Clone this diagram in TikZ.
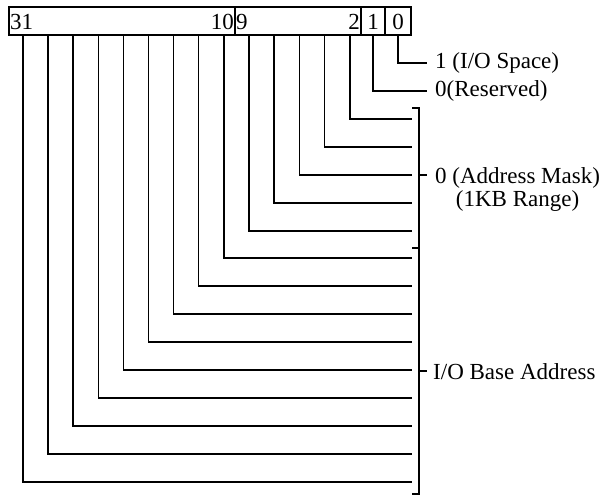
\documentclass[tikz,border=0pt]{standalone}
\usepackage{fontspec}
\setmainfont{Liberation Serif}
\usetikzlibrary{positioning}

\tikzset{
  wire/.style={line width=1.5pt},
  bitnum/.style={inner sep=1pt},
  fieldlabel/.style={inner sep=1pt, anchor=west}
}

\begin{document}
\begin{tikzpicture}[x=1pt,y=-1pt,font=\fontsize{23}{26}\selectfont]
    \useasboundingbox (0,0) rectangle (609,497);

    % register box
    \draw[wire] (9,7) rectangle (411,35);
    \foreach \x in {235,361,385} \draw[wire] (\x,7) -- (\x,35);

    % bit numbers
    \node[bitnum, anchor=west] (n31) at (9,22) {31};
    \node[bitnum, anchor=east] (n10) at (235,22) {10};
    \node[bitnum, anchor=west] (n9)  at (235,22) {9};
    \node[bitnum, anchor=east] (n2)  at (361,22) {2};
    \node[bitnum] (n1) at (373,22) {1};
    \node[bitnum] (n0) at (398,22) {0};

    % base address lines
    \foreach \i in {0,...,8} {
        \coordinate (ba\i) at (23+25.1*\i,35);
        \coordinate (be\i) at (412,482-28*\i);
        \draw[wire] (ba\i) |- (be\i);
    }

    % address mask lines
    \foreach \j in {0,...,4} {
        \coordinate (ma\j) at (249+25.2*\j,35);
        \coordinate (me\j) at (412,231-28*\j);
        \draw[wire] (ma\j) |- (me\j);
    }

    % bit 1 and bit 0
    \coordinate (r1) at (373,35);
    \coordinate (r0) at (398,35);
    \coordinate (re1) at (427,91);
    \coordinate (re0) at (427,63);
    \draw[wire] (r1) |- (re1);
    \draw[wire] (r0) |- (re0);

    % bracket
    \coordinate (bt) at (419,108);
    \coordinate (bb) at (419,494);
    \draw[wire] (412,108) -- (bt) -- (bb) -- (412,494);
    \draw[wire] (412,248) -- (419,248);
    \draw[wire] (419,175) -- (427,175);
    \draw[wire] (419,371) -- (427,371);

    % labels
    \node[fieldlabel] (space) at (434,63) {1 (I/O Space)};
    \node[fieldlabel] (resv)  at (434,91) {0(Reserved)};
    \node[fieldlabel] (mask)  at (434,178) {0 (Address Mask)};
    \node[inner sep=1pt, below=0pt of mask] (range) {(1KB Range)};
    \node[fieldlabel] (base)  at (432,372) {I/O Base Address};
\end{tikzpicture}
\end{document}
